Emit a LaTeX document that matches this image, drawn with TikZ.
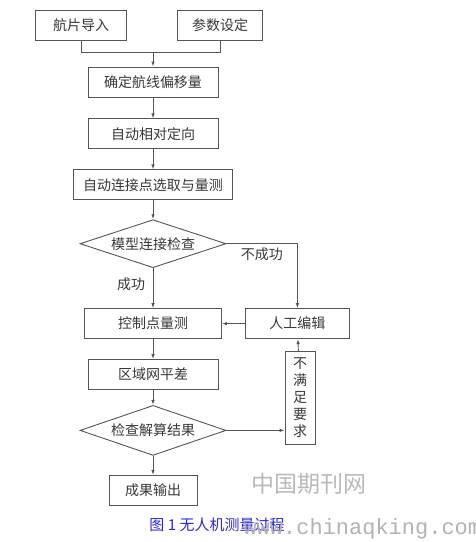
\documentclass[tikz,border=0pt]{standalone}
\usepackage{fontspec}
\usepackage{tikz}
\usetikzlibrary{arrows.meta,positioning,calc,shapes.geometric}
\usepackage{xcolor}
\newfontfamily\cjk{Noto Sans CJK SC}
\setmonofont{Liberation Mono}
\definecolor{linegray}{RGB}{85,85,85}
\definecolor{textgray}{RGB}{55,55,55}
\definecolor{capblue}{RGB}{40,40,225}
\begin{document}
\begin{tikzpicture}[
  x=1pt, y=-1pt,
  node distance=20pt,
  box/.style={draw=linegray, line width=0.9pt, minimum height=30pt,
              minimum width=130pt, inner sep=2pt, text=textgray,
              font=\cjk\fontsize{14}{16}\selectfont},
  dia/.style={draw=linegray, line width=0.9pt, diamond, aspect=3,
              minimum width=146pt, minimum height=48pt, inner sep=0pt,
              text=textgray, font=\cjk\fontsize{14}{16}\selectfont},
  lab/.style={text=textgray, font=\cjk\fontsize{14}{16}\selectfont},
  arr/.style={draw=linegray, line width=0.9pt, -{Latex[length=5pt,width=3.5pt]}},
  ln/.style={draw=linegray, line width=0.9pt}
]
\useasboundingbox (0,0) rectangle (475,542);
\node[box, minimum width=91pt] (img)  at (81,25)  {航片导入};
\node[box, minimum width=85pt] (para) at (220,25) {参数设定};
\node[box] (offset) at (153,82) {确定航线偏移量};
\node[box, below=21pt of offset] (rel) {自动相对定向};
\node[box, minimum width=159pt, below=of rel] (tie) {自动连接点选取与量测};
\node[dia, below=19pt of tie] (chk1) {模型连接检查};
\node[box, minimum width=137pt, below=40pt of chk1] (ctrl) {控制点量测};
\node[box, minimum width=104pt, right=23pt of ctrl] (edit) {人工编辑};
\node[box, below=of ctrl] (adj) {区域网平差};
\node[dia, minimum height=50pt, below=15pt of adj] (chk2) {检查解算结果};
\node[box, minimum width=88pt, below=19pt of chk2] (out) {成果输出};
\node[box, minimum width=30pt, minimum height=93pt, inner sep=1pt,
      align=center, font=\cjk\fontsize{14}{17}\selectfont] (fail) at (300,398)
      {不\\满\\足\\要\\求};

% connectors
\coordinate (mid) at ($(offset.north)+(0,-14)$);
\draw[ln] (img.south) -- (img.south |- mid) -- (para.south |- mid) -- (para.south);
\draw[arr] (mid) -- (offset.north);
\draw[arr] (offset) -- (rel);
\draw[arr] (rel) -- (tie);
\draw[arr] (tie) -- (chk1);
\draw[arr] (chk1) -- node[lab, left=4pt, pos=0.4] {成功} (ctrl);
\draw[arr] (chk1.east) -| node[lab, below=0pt, pos=0.25] {不成功} (edit.north);
\draw[arr] (edit) -- (ctrl);
\draw[arr] (ctrl) -- (adj);
\draw[arr] (adj) -- (chk2);
\draw[arr] (chk2) -- (out);
\draw[arr] (chk2.east) -- (chk2.east -| fail.west);
\draw[arr] (fail) -- (edit);

% caption and watermark
\node[text=gray!55, font=\cjk\fontsize{23}{25}\selectfont] (mark) at (309,484) {中国期刊网};
\node[text=capblue, font=\cjk\fontsize{15}{17}\selectfont] (cap) at (217,525) {图 1 无人机测量过程};
\node[text=gray!60, anchor=west, font=\ttfamily\fontsize{22}{24}\selectfont] (url) at (240,529) {www.chinaqking.com};
\end{tikzpicture}
\end{document}
